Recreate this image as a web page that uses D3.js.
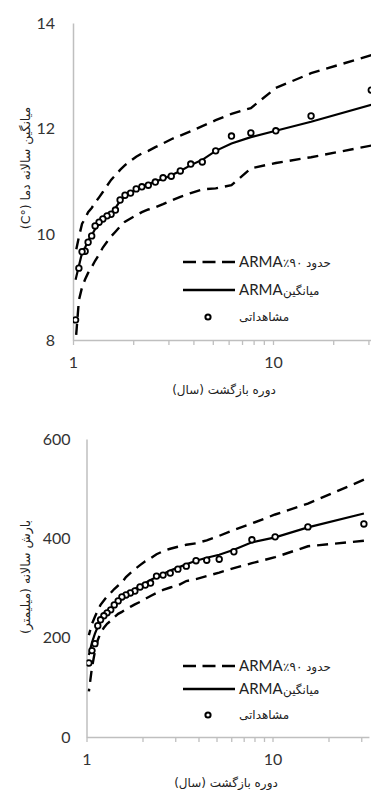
<!DOCTYPE html>
<html>
<head>
<meta charset="utf-8">
<script src="https://cdn.jsdelivr.net/npm/d3@7"></script>
<style>
  body { margin: 0; background: #fff; }
</style>
</head>
<body>
<svg id="chart" width="371" height="790"></svg>
<script>
// return periods (years), rank 1..30
const returnPeriod = [31, 15.5, 10.33, 7.75, 6.2, 5.17, 4.43, 3.88, 3.44, 3.1, 2.82, 2.58, 2.38, 2.21, 2.07,
  1.94, 1.82, 1.72, 1.63, 1.55, 1.48, 1.41, 1.35, 1.29, 1.24, 1.19, 1.15, 1.11, 1.07, 1.03];

// mean annual temperature (°C)
const tempObserved = [12.73, 12.24, 11.96, 11.92, 11.86, 11.58, 11.37, 11.33, 11.20, 11.10, 11.07, 10.99, 10.93, 10.90, 10.86,
  10.78, 10.74, 10.65, 10.46, 10.38, 10.35, 10.29, 10.23, 10.16, 9.97, 9.85, 9.68, 9.67, 9.36, 8.38];
const tempMean = [12.45, 12.13, 11.96, 11.84, 11.72, 11.58, 11.41, 11.31, 11.2, 11.12, 11.05, 11.0, 10.95, 10.9, 10.85,
  10.78, 10.72, 10.63, 10.5, 10.4, 10.33, 10.27, 10.2, 10.1, 9.98, 9.88, 9.75, 9.65, 9.40, 9.14];
const tempUpper = [13.39, 13.05, 12.77, 12.39, 12.28, 12.16, 12.05, 11.95, 11.87, 11.8, 11.72, 11.65, 11.58, 11.53, 11.47,
  11.39, 11.31, 11.22, 11.12, 11.03, 10.92, 10.8, 10.7, 10.6, 10.5, 10.42, 10.3, 10.2, 9.95, 9.65];
const tempLower = [11.68, 11.46, 11.35, 11.25, 10.93, 10.87, 10.85, 10.78, 10.71, 10.64, 10.57, 10.51, 10.47, 10.42, 10.36,
  10.3, 10.24, 10.15, 10.05, 9.96, 9.86, 9.75, 9.62, 9.5, 9.38, 9.27, 9.15, 9.0, 8.75, 7.95];
const tempTicks = [8, 10, 12, 14];

// annual precipitation (mm)
const rainObserved = [429, 423, 403, 397, 373, 358, 356, 355, 344, 338, 330, 326, 324, 310, 306,
  302, 294, 290, 286, 282, 274, 266, 256, 250, 244, 236, 224, 188, 174, 149];
const rainMean = [450, 422, 402, 392, 377, 367, 361, 355, 348, 341, 335, 328, 322, 316, 310,
  304, 298, 291, 285, 279, 273, 266, 259, 252, 243, 233, 222, 208, 190, 165];
const rainUpper = [518, 470, 448, 430, 417, 405, 396, 390, 387, 383, 379, 374, 368, 360, 354,
  346, 338, 330, 322, 311, 305, 298, 290, 283, 275, 266, 255, 242, 228, 205];
const rainLower = [395, 384, 362, 350, 340, 331, 324, 318, 314, 305, 301, 296, 290, 284, 278,
  272, 267, 262, 257, 252, 248, 241, 234, 228, 220, 210, 195, 172, 140, 92];
const rainTicks = [0, 200, 400, 600];

const xLabelTicks = [1, 10];
const xMinorTicks = [1, 2, 3, 4, 5, 6, 7, 8, 9, 10, 20, 30];

const legendLabels = ['میانگین', 'مشاهداتی'];
const boundWord = 'حدود';
const boundPct = '٪۹۰';
const xTitle = 'دوره بازگشت (سال)';

const svg = d3.select('#chart');
const faFont = '"DejaVu Sans", sans-serif';
const numFont = 'Lato, "Open Sans", sans-serif';
const axisGray = '#bfbfbf';

function drawPanel(cfg) {
  const x = d3.scaleLog()
    .domain([1, 33])
    .range([cfg.left, cfg.left + cfg.decade * Math.log10(33)]);
  const y = d3.scaleLinear()
    .domain([cfg.yTicks[0], cfg.yTicks[cfg.yTicks.length - 1]])
    .range([cfg.bottom, cfg.top]);

  const g = svg.append('g');

  // clip to plot area
  g.append('clipPath').attr('id', cfg.id + '-clip')
    .append('rect')
    .attr('x', cfg.left).attr('y', cfg.top - 10)
    .attr('width', 400).attr('height', cfg.bottom - cfg.top + 10);

  // x axis with minor ticks
  g.append('g')
    .attr('transform', 'translate(0,' + cfg.bottom + ')')
    .call(d3.axisBottom(x).tickValues(xMinorTicks).tickSize(5).tickSizeOuter(0).tickFormat(''))
    .call(a => a.selectAll('path,line').attr('stroke', axisGray).attr('stroke-width', 1.3));

  g.append('g')
    .attr('transform', 'translate(0,' + cfg.bottom + ')')
    .call(d3.axisBottom(x).tickValues(xLabelTicks).tickSize(0).tickPadding(17).tickFormat(d3.format('d')))
    .call(a => a.select('.domain').remove())
    .selectAll('text')
      .attr('font-family', numFont)
      .attr('font-size', 16)
      .attr('fill', '#333');

  // y axis
  g.append('g')
    .attr('transform', 'translate(' + cfg.left + ',0)')
    .call(d3.axisLeft(y).tickValues(cfg.yTicks).tickSize(0).tickPadding(cfg.yPad).tickFormat(d3.format('d')))
    .call(a => a.select('.domain').attr('stroke', axisGray).attr('stroke-width', 1.5))
    .selectAll('text')
      .attr('font-family', numFont)
      .attr('font-size', 16)
      .attr('fill', '#333');

  // axis titles
  g.append('text')
    .attr('x', cfg.xTitlePos[0]).attr('y', cfg.xTitlePos[1])
    .attr('text-anchor', 'middle').attr('direction', 'rtl')
    .attr('font-family', faFont).attr('font-size', 12).attr('fill', '#222')
    .text(xTitle);

  g.append('text')
    .attr('transform', 'translate(' + cfg.yTitlePos[0] + ',' + cfg.yTitlePos[1] + ') rotate(-90)')
    .attr('text-anchor', 'middle').attr('direction', 'rtl')
    .attr('font-family', faFont).attr('font-size', 12.5).attr('fill', '#222')
    .text(cfg.yTitle);

  const plot = g.append('g').attr('clip-path', 'url(#' + cfg.id + '-clip)');
  const line = d3.line().x((d, i) => x(returnPeriod[i])).y(d => y(d));

  // ARMA 90% bounds
  [cfg.upper, cfg.lower].forEach(s => {
    plot.append('path')
      .attr('d', line(s))
      .attr('fill', 'none').attr('stroke', '#000')
      .attr('stroke-width', 2.4).attr('stroke-dasharray', '11,7');
  });

  // ARMA mean
  plot.append('path')
    .attr('d', line(cfg.mean))
    .attr('fill', 'none').attr('stroke', '#000').attr('stroke-width', 2.2);

  // observed
  plot.selectAll('circle.obs')
    .data(cfg.observed)
    .enter().append('circle')
    .attr('class', 'obs')
    .attr('cx', (d, i) => x(returnPeriod[i]))
    .attr('cy', d => y(d))
    .attr('r', 2.8)
    .attr('fill', '#fff').attr('stroke', '#000').attr('stroke-width', 1.8);

  // legend
  const lg = g.append('g');
  const ly = cfg.legendY;
  lg.append('line')
    .attr('x1', 183).attr('x2', 235).attr('y1', ly[0]).attr('y2', ly[0])
    .attr('stroke', '#000').attr('stroke-width', 2.4).attr('stroke-dasharray', '13,6.5');
  lg.append('line')
    .attr('x1', 183).attr('x2', 235).attr('y1', ly[1]).attr('y2', ly[1])
    .attr('stroke', '#000').attr('stroke-width', 2.4);
  lg.append('circle')
    .attr('cx', 208).attr('cy', ly[2]).attr('r', 2.6)
    .attr('fill', '#fff').attr('stroke', '#000').attr('stroke-width', 2);

  [0, 1].forEach(k => {
    lg.append('text')
      .attr('x', 239).attr('y', ly[k] + 5)
      .attr('font-family', numFont).attr('font-size', 15).attr('fill', '#222')
      .text('ARMA');
  });
  lg.append('text')
    .attr('x', 283).attr('y', ly[0] + 5)
    .attr('font-family', faFont).attr('font-size', 12).attr('fill', '#222')
    .text(boundPct);
  lg.append('text')
    .attr('x', 306).attr('y', ly[0] + 5)
    .attr('font-family', faFont).attr('font-size', 12).attr('fill', '#222')
    .text(boundWord);
  lg.append('text')
    .attr('x', 283).attr('y', ly[1] + 5)
    .attr('font-family', faFont).attr('font-size', 12).attr('fill', '#222')
    .text(legendLabels[0]);
  lg.append('text')
    .attr('x', 239).attr('y', ly[2] + 4)
    .attr('font-family', faFont).attr('font-size', 12).attr('fill', '#222')
    .text(legendLabels[1]);
}

drawPanel({
  id: 'temp', left: 73, decade: 200, top: 23, bottom: 340, yPad: 18,
  yTicks: tempTicks, observed: tempObserved, mean: tempMean, upper: tempUpper, lower: tempLower,
  yTitle: 'میانگین سالانه دما (°C)', yTitlePos: [30, 168], xTitlePos: [224, 394],
  legendY: [262, 290, 317]
});

drawPanel({
  id: 'rain', left: 86.5, decade: 186, top: 439, bottom: 737, yPad: 16,
  yTicks: rainTicks, observed: rainObserved, mean: rainMean, upper: rainUpper, lower: rainLower,
  yTitle: 'بارش سالانه (میلیمتر)', yTitlePos: [30, 577], xTitlePos: [226, 787],
  legendY: [666, 689, 715]
});
</script>
</body>
</html>
